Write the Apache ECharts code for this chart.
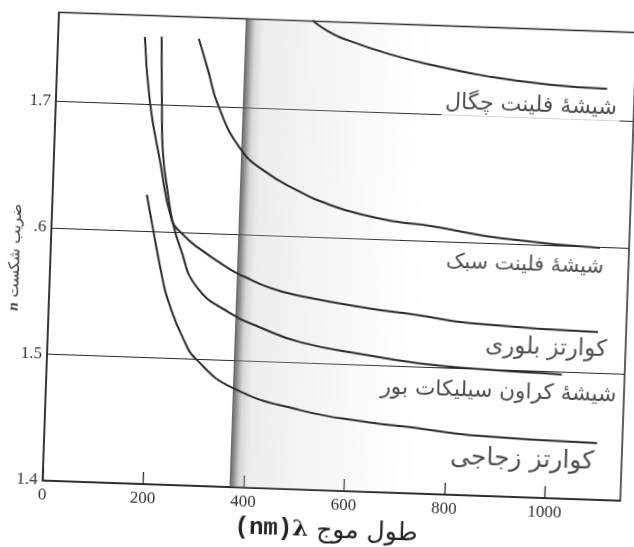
<!DOCTYPE html>
<html><head><meta charset="utf-8">
<script src="https://cdn.jsdelivr.net/npm/echarts@6/dist/echarts.min.js"></script>
<style>
html,body{margin:0;padding:0;background:#fff;overflow:hidden}
#chart{width:634px;height:547px;transform:rotate(2deg);transform-origin:50% 50%}
</style></head><body><div id="chart"></div>
<script>
// wavelength (nm), refractive index n
const denseFlint = [[505,1.771],[510,1.769],[534,1.763],[561,1.758],[661,1.746],[762,1.7375],[862,1.731],[982,1.7263],[1095,1.7247]];
const lightFlint = [[280,1.753],[300,1.729],[323,1.701],[369,1.668],[417,1.651],[486,1.636],[552,1.6255],[619,1.6185],[687,1.614],[753,1.6116],[893,1.604],[1092,1.599]];
const crystalQuartz = [[172.6,1.753],[187,1.702],[211,1.656],[239,1.609],[262,1.598],[291,1.5886],[358,1.5718],[384,1.567],[439,1.5583],[499,1.5528],[633,1.5451],[733,1.541],[839,1.5361],[1094,1.5325]];
const boroCrown = [[206,1.7536],[211,1.702],[216.5,1.662],[229,1.6305],[241,1.607],[257,1.588],[293,1.557],[361,1.5374],[421,1.527],[502,1.5164],[636,1.508],[736,1.503],[842,1.5003],[988,1.4985],[1025,1.498]];
const fusedQuartz = [[187.5,1.6284],[202,1.6017],[225,1.5616],[236.6,1.546],[269,1.5164],[298.5,1.4994],[372,1.4783],[507,1.4627],[641,1.4551],[741,1.4517],[847,1.4476],[1100,1.4449]];
const visibleBand = [372, 750];
const yTickValues = [1.4, 1.5, 1.6, 1.7];
const yTickLabels = ['1.4', '1.5', '.6', '1.7'];
const labelNames = ['شیشهٔ فلینت چگال', 'شیشهٔ فلینت سبک', 'کوارتز بلوری', 'شیشهٔ کراون سیلیکات بور', 'کوارتز زجاجی'];
const labelX = [945, 944, 992, 900, 952];
const labelY = [1.7092, 1.5835, 1.5185, 1.4824, 1.4294];

// styling
const ink = '#2a2a2a';
const labelFont = 'DejaVu Sans';
const labelTargetWidths = [172, 158, 122, 236, 150];
const measureCtx = document.createElement('canvas').getContext('2d');
function fitSize(text, family, target) {
  measureCtx.font = '20px "' + family + '"';
  const w = measureCtx.measureText(text).width;
  return Math.max(17, Math.min(25, 20 * target / w));
}
const chart = echarts.init(document.getElementById('chart'));
const curve = (data) => ({
  type: 'line', data, symbol: 'none', smooth: 0.5, clip: true, z: 3,
  lineStyle: { color: ink, width: 2 }, silent: true
});
const labelData = labelNames.map((n, i) => ({
  value: [labelX[i], labelY[i]], name: n,
  label: Object.assign({ fontSize: fitSize(n, labelFont, labelTargetWidths[i]) },
    i === 0 ? { backgroundColor: '#fff', padding: [2, 3, 2, 3] } : {})
}));
chart.setOption({
  animation: false,
  backgroundColor: '#fff',
  grid: { left: 50, right: 6, top: 21.5, bottom: 57, containLabel: false, outerBoundsMode: 'none',
    show: true, borderColor: ink, borderWidth: 1.5, backgroundColor: 'transparent' },
  xAxis: {
    type: 'value', min: 0, max: 1150, interval: 200,
    name: '{a|(nm)}{b|λ}{c| طول موج}', nameLocation: 'middle', nameGap: 17,
    nameTextStyle: { padding: [0, 8, 0, 0], rich: {
      a: { fontFamily: 'Liberation Mono', fontWeight: 'bold', fontSize: 24, color: '#222' },
      b: { fontFamily: 'DejaVu Serif', fontWeight: 'bold', fontSize: 23, color: '#222' },
      c: { fontFamily: 'DejaVu Sans', fontSize: 25, color: '#222' } } },
    axisLine: { show: true, lineStyle: { color: ink, width: 1.5 } },
    axisTick: { show: true, inside: true, length: 12, lineStyle: { color: ink, width: 1.3 } },
    axisLabel: { color: '#333', fontFamily: 'Liberation Serif', fontSize: 17, margin: 6, showMaxLabel: false,
      formatter: (v) => String(v) },
    splitLine: { show: false }
  },
  yAxis: {
    type: 'value', min: 1.4, max: 1.77, interval: 0.1,
    name: '{n|n}{t| ضریب شکست}', nameLocation: 'middle', nameRotate: 90, nameGap: 27, nameMoveOverlap: false,
    nameTextStyle: { padding: [0, 24, 0, 0], rich: {
      n: { fontFamily: 'Liberation Serif', fontStyle: 'italic', fontWeight: 'bold', fontSize: 15, color: '#333' },
      t: { fontFamily: 'DejaVu Sans', fontSize: 15, color: '#333' } } },
    axisLine: { show: true, lineStyle: { color: ink, width: 1.5 } },
    axisTick: { show: false },
    axisLabel: { color: '#333', fontFamily: 'Liberation Serif', fontSize: 17, margin: 5, showMaxLabel: false,
      formatter: (v) => { const k = yTickValues.findIndex(t => Math.abs(t - v) < 1e-6); return k >= 0 ? yTickLabels[k] : ''; } },
    splitLine: { show: true, lineStyle: { color: ink, width: 1.2 } }
  },
  series: [
    { type: 'line', data: [], z: 1, silent: true,
      markArea: { silent: true, data: [[{ xAxis: visibleBand[0] }, { xAxis: visibleBand[1] }]],
        itemStyle: { color: new echarts.graphic.LinearGradient(0, 0, 1, 0, [
          { offset: 0, color: 'rgba(70,70,70,0.85)' },
          { offset: 0.025, color: 'rgba(105,105,105,0.65)' },
          { offset: 0.05, color: 'rgba(160,160,160,0.42)' },
          { offset: 0.1, color: 'rgba(200,200,200,0.32)' },
          { offset: 0.45, color: 'rgba(212,212,212,0.24)' },
          { offset: 1, color: 'rgba(230,230,230,0)' }]) } } },
    curve(denseFlint), curve(lightFlint), curve(crystalQuartz), curve(boroCrown), curve(fusedQuartz),
    { type: 'scatter', data: labelData, symbolSize: 0, z: 5, silent: true,
      label: { show: true, position: 'inside', formatter: (p) => p.name,
        fontFamily: labelFont, fontSize: 19, color: '#222' } }
  ]
});
</script></body></html>
